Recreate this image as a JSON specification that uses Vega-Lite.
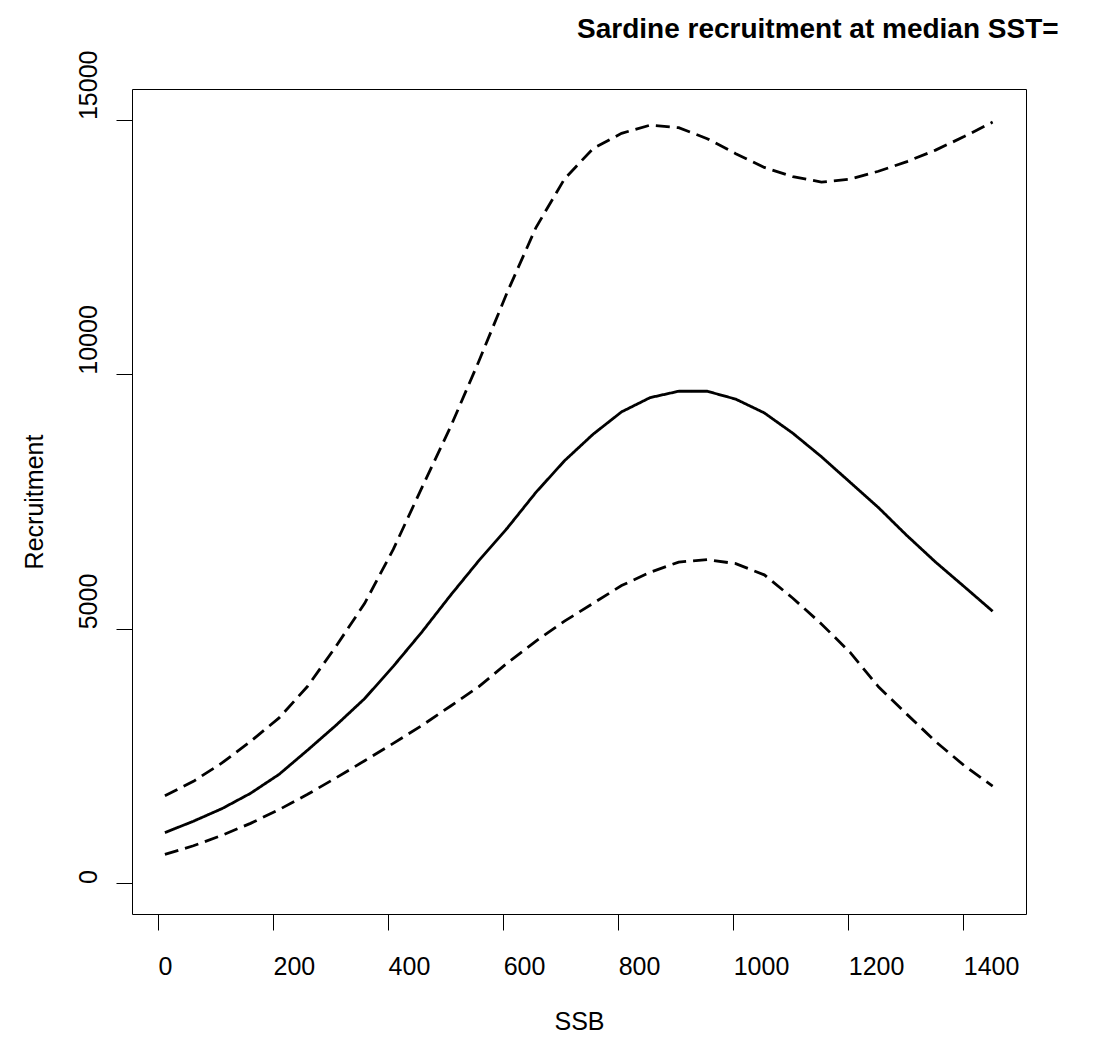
{
  "$schema": "https://vega.github.io/schema/vega-lite/v6.json",
  "width": 894,
  "height": 825,
  "autosize": "none",
  "padding": {"left": 132, "top": 89, "right": 74, "bottom": 128},
  "background": "white",
  "title": {
    "text": "Sardine recruitment at median SST=",
    "anchor": "start",
    "frame": "group",
    "dx": 445,
    "dy": 27,
    "offset": 11.5,
    "baseline": "alphabetic",
    "font": "Liberation Sans",
    "fontSize": 28,
    "fontWeight": "bold",
    "color": "black"
  },
  "config": {
    "view": {"stroke": "black", "strokeWidth": 1},
    "axis": {
      "domain": false,
      "grid": false,
      "ticks": true,
      "tickSize": 16,
      "tickColor": "black",
      "tickWidth": 1,
      "format": "d",
      "labelFont": "Liberation Sans",
      "labelFontSize": 25,
      "labelColor": "black",
      "labelFlush": false,
      "labelOverlap": false,
      "labelBound": false,
      "titleFont": "Liberation Sans",
      "titleFontSize": 25,
      "titleFontWeight": "normal",
      "titleColor": "black"
    }
  },
  "data": {
    "values": [
      {"ssb": 12, "fit": 998, "lower": 570, "upper": 1720},
      {"ssb": 61.6, "fit": 1222, "lower": 740, "upper": 2005},
      {"ssb": 111.2, "fit": 1469, "lower": 945, "upper": 2366},
      {"ssb": 160.9, "fit": 1770, "lower": 1180, "upper": 2789},
      {"ssb": 210.5, "fit": 2142, "lower": 1450, "upper": 3250},
      {"ssb": 260.1, "fit": 2618, "lower": 1750, "upper": 3871},
      {"ssb": 309.7, "fit": 3108, "lower": 2075, "upper": 4660},
      {"ssb": 359.3, "fit": 3630, "lower": 2410, "upper": 5500},
      {"ssb": 409.0, "fit": 4263, "lower": 2750, "upper": 6560},
      {"ssb": 458.6, "fit": 4935, "lower": 3100, "upper": 7768},
      {"ssb": 508.2, "fit": 5653, "lower": 3480, "upper": 8955},
      {"ssb": 557.8, "fit": 6339, "lower": 3865, "upper": 10254},
      {"ssb": 607.4, "fit": 6980, "lower": 4330, "upper": 11615},
      {"ssb": 657.1, "fit": 7680, "lower": 4760, "upper": 12880},
      {"ssb": 706.7, "fit": 8300, "lower": 5150, "upper": 13835},
      {"ssb": 756.3, "fit": 8820, "lower": 5500, "upper": 14430},
      {"ssb": 805.9, "fit": 9260, "lower": 5850, "upper": 14730},
      {"ssb": 855.6, "fit": 9540, "lower": 6110, "upper": 14890},
      {"ssb": 905.2, "fit": 9665, "lower": 6310, "upper": 14840},
      {"ssb": 954.8, "fit": 9665, "lower": 6360, "upper": 14625},
      {"ssb": 1004.4, "fit": 9510, "lower": 6280, "upper": 14330},
      {"ssb": 1054.0, "fit": 9240, "lower": 6060, "upper": 14060},
      {"ssb": 1103.7, "fit": 8840, "lower": 5600, "upper": 13880},
      {"ssb": 1153.3, "fit": 8380, "lower": 5096, "upper": 13772},
      {"ssb": 1202.9, "fit": 7880, "lower": 4541, "upper": 13830},
      {"ssb": 1252.5, "fit": 7380, "lower": 3862, "upper": 13985},
      {"ssb": 1302.1, "fit": 6830, "lower": 3320, "upper": 14175},
      {"ssb": 1351.8, "fit": 6310, "lower": 2786, "upper": 14400},
      {"ssb": 1401.4, "fit": 5830, "lower": 2316, "upper": 14665},
      {"ssb": 1451.0, "fit": 5345, "lower": 1910, "upper": 14950}
    ]
  },
  "transform": [{"fold": ["fit", "lower", "upper"], "as": ["series", "recruitment"]}],
  "mark": {"type": "line", "color": "black", "strokeWidth": 2.8, "strokeCap": "butt", "clip": true},
  "encoding": {
    "x": {
      "field": "ssb",
      "type": "quantitative",
      "title": "SSB",
      "scale": {"domain": [-45.2, 1509], "nice": false, "zero": false},
      "axis": {
        "values": [0, 200, 400, 600, 800, 1000, 1200, 1400],
        "labelAlign": "left",
        "labelBaseline": "alphabetic",
        "labelPadding": 44,
        "titleY": 115,
        "titleBaseline": "alphabetic"
      }
    },
    "y": {
      "field": "recruitment",
      "type": "quantitative",
      "title": "Recruitment",
      "scale": {"domain": [-600, 15600], "nice": false, "zero": false},
      "axis": {
        "values": [0, 5000, 10000, 15000],
        "labelAngle": -90,
        "labelAlign": "left",
        "labelBaseline": "alphabetic",
        "labelPadding": 20,
        "titleAngle": -90,
        "titleX": -90,
        "titleY": 412.5,
        "titleAlign": "center",
        "titleBaseline": "alphabetic"
      }
    },
    "strokeDash": {
      "field": "series",
      "type": "nominal",
      "scale": {"domain": ["fit", "lower", "upper"], "range": [[1, 0], [14, 7], [14, 7]]},
      "legend": null
    }
  }
}
